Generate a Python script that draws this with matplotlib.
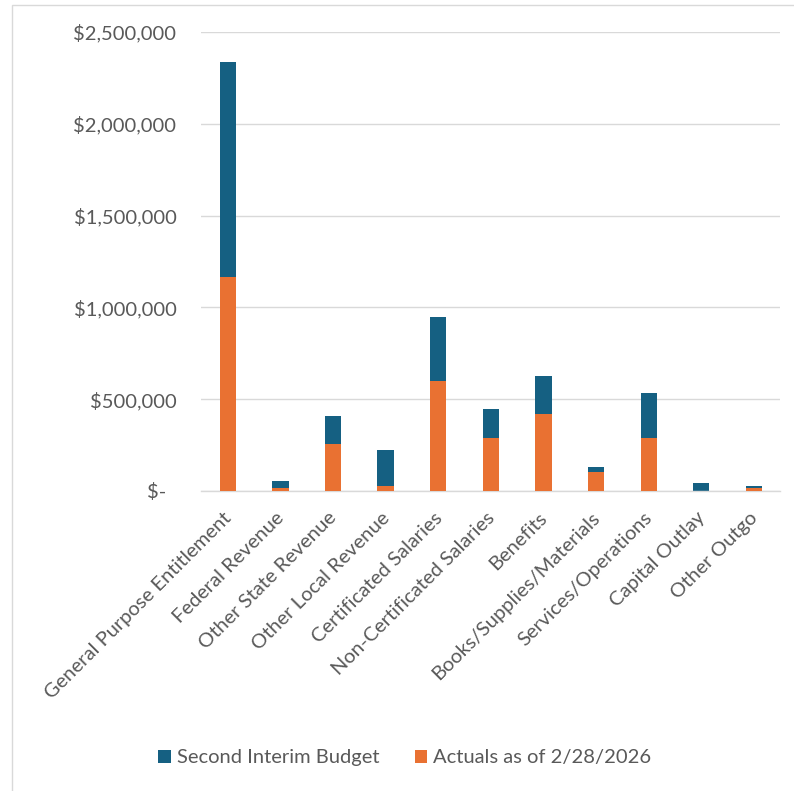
import matplotlib
matplotlib.use("Agg")
import matplotlib.pyplot as plt
from matplotlib.patches import Rectangle
from matplotlib.ticker import FuncFormatter
from matplotlib.transforms import ScaledTranslation

plt.rcParams['font.family'] = ['Lato', 'DejaVu Sans']

categories = ["General Purpose Entitlement", "Federal Revenue", "Other State Revenue",
              "Other Local Revenue", "Certificated Salaries", "Non-Certificated Salaries",
              "Benefits", "Books/Supplies/Materials", "Services/Operations",
              "Capital Outlay", "Other Outgo"]
budget = [2338000, 54000, 408000, 223000, 948000, 447000, 626000, 132000, 532000, 44000, 27000]
actuals = [1164000, 18000, 254000, 29000, 601000, 287000, 418000, 105000, 290000, 2000, 18000]

blue = "#156082"
orange = "#E97132"
text_col = "#595959"
grid_col = "#D9D9D9"


def money(v, pos):
    if v == 0:
        return "$-  "
    return "${:,.0f}".format(v)


fig = plt.figure(figsize=(7.94, 7.91), dpi=100)
ax = fig.add_axes([0.2537, 0.3793, 0.729, 0.5802])

x = range(len(categories))
ax.bar(x, budget, width=0.31, color=blue, label="Second Interim Budget", zorder=2)
ax.bar(x, actuals, width=0.31, color=orange, label="Actuals as of 2/28/2026", zorder=3)

ax.set_xlim(-0.5, len(categories) - 0.5)
ax.set_ylim(0, 2500000)
ax.set_yticks([0, 500000, 1000000, 1500000, 2000000, 2500000])
ax.yaxis.set_major_formatter(FuncFormatter(money))
ax.grid(axis="y", color=grid_col, linewidth=1, zorder=0)
ax.set_axisbelow(True)

for s in ["top", "right", "left"]:
    ax.spines[s].set_visible(False)
ax.spines["bottom"].set_color(grid_col)
ax.spines["bottom"].set_linewidth(1)

ax.tick_params(axis="y", length=0, pad=18, labelsize=14.5, labelcolor=text_col)
ax.tick_params(axis="x", length=0, pad=8, labelsize=14.5, labelcolor=text_col)
ax.set_xticks(list(x))
ax.set_xticklabels(categories, rotation=45, ha="right", rotation_mode="anchor")
# nudge labels a little left and down
shift = ScaledTranslation(-5 / 100, -7 / 100, fig.dpi_scale_trans)
for lab in ax.get_xticklabels():
    lab.set_transform(lab.get_transform() + shift)

fig.legend(loc="center", bbox_to_anchor=(405 / 794, 1 - 758 / 791), ncol=2,
           frameon=False, fontsize=14.5, labelcolor=text_col,
           handlelength=0.6, handleheight=0.6, handletextpad=0.3, columnspacing=1.8)

# chart border
fig.patches.append(Rectangle((12 / 794, -0.1), 1.2, 1 - 5 / 791 + 0.1,
                             transform=fig.transFigure, fill=False,
                             edgecolor=grid_col, linewidth=1))

fig.savefig("out.png", dpi=100)
